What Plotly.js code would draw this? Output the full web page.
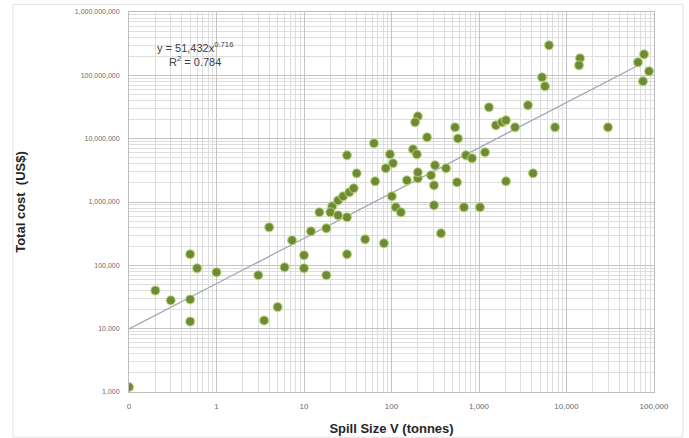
<!DOCTYPE html>
<html>
<head>
<meta charset="utf-8">
<script src="https://cdn.plot.ly/plotly-3.0.1.min.js"></script>
<style>html,body{margin:0;padding:0;background:#fff}#chart{width:689px;height:438px}</style>
</head>
<body>
<div id="chart"></div>
<script>
// Spill size (tonnes)
var spillSize = [
  0.1, 0.2, 0.3, 0.5, 0.6, 0.5, 0.5, 1.0, 3, 3.5,
  5, 4, 7.3, 6, 10, 10, 18, 12, 18, 15,
  31, 21, 24.5, 28, 33, 37, 20, 24.5, 31, 50,
  31, 40, 65, 63, 82, 96, 104, 86, 101, 112,
  128, 150, 200, 200, 176, 195, 200, 186, 255, 314,
  420, 283, 306, 306, 368, 532, 575, 561, 674, 1026,
  710, 832, 1170, 1300, 1560, 1830, 2035, 2580, 3630, 2035,
  4140, 7390, 29800, 5250, 5680, 6310, 14260, 13900, 76900, 65600,
  87700, 74800
];
// Total cost (US$)
var totalCost = [
  1200, 40000, 28000, 150000, 90000, 29000, 13000, 78000, 70000, 13500,
  22000, 400000, 250000, 93000, 144000, 90000, 70000, 345000, 385000, 690000,
  150000, 855000, 1060000, 1230000, 1420000, 1650000, 690000, 617000, 574000, 258000,
  5470000, 2840000, 2120000, 8450000, 223000, 5670000, 4090000, 3400000, 1230000, 825000,
  690000, 2200000, 2370000, 2940000, 6790000, 5670000, 22500000, 18200000, 10500000, 3800000,
  3400000, 2640000, 1840000, 887000, 320000, 15100000, 10100000, 2050000, 825000, 825000,
  5470000, 4900000, 6100000, 31300000, 16300000, 18200000, 19500000, 15100000, 33700000, 2120000,
  2840000, 15100000, 15100000, 93100000, 67100000, 298000000, 186000000, 144000000, 215000000, 161000000,
  116000000, 80500000
];
// Power trendline end points
var trendX = [0.1, 70000];
var trendY = [9900, 150000000];

var xTickVals = [0.1, 1, 10, 100, 1000, 10000, 100000];
var xTickText = ['0', '1', '10', '100', '1,000', '10,000', '100,000'];
var yTickVals = [1e3, 1e4, 1e5, 1e6, 1e7, 1e8, 1e9];
var yTickText = ['1,000', '10,000', '100,000', '1,000,000', '10,000,000', '100,000,000', '1,000,000,000'];

function minorVals(lo, hi) {
  var out = [];
  for (var e = lo; e < hi; e++) {
    for (var d = 2; d <= 9; d++) out.push(d * Math.pow(10, e));
  }
  return out;
}

var traces = [
  {
    x: trendX, y: trendY, type: 'scatter', mode: 'lines',
    line: {color: '#9ea3b8', width: 1.2}, hoverinfo: 'skip', showlegend: false
  },
  {
    x: spillSize, y: totalCost, type: 'scatter', mode: 'markers',
    marker: {color: '#6e8a37', size: 9, line: {color: 'rgba(190,220,120,0.6)', width: 1.5}},
    showlegend: false
  }
];

var layout = {
  width: 689, height: 438,
  margin: {l: 129, r: 35, t: 12, b: 46},
  paper_bgcolor: '#ffffff', plot_bgcolor: '#ffffff',
  font: {family: 'Liberation Sans, Arial, sans-serif', color: '#595959'},
  xaxis: {
    type: 'log', range: [-1, 5],
    tickmode: 'array', tickvals: xTickVals, ticktext: xTickText,
    tickfont: {size: 8, color: '#6a6a6a'},
    ticks: '', ticklen: 0, ticklabelstandoff: 6,
    showgrid: true, gridcolor: '#c4c4c4', gridwidth: 1,
    minor: {tickmode: 'array', tickvals: minorVals(-1, 5), showgrid: true, gridcolor: '#dedede', gridwidth: 1, ticks: ''},
    showline: true, linecolor: '#bdbdbd', linewidth: 1, mirror: true,
    zeroline: false,
    title: {text: 'Spill Size V (tonnes)', font: {size: 13, color: '#262626', family: 'Liberation Sans, Arial, sans-serif', weight: 'bold'}, standoff: 14}
  },
  yaxis: {
    type: 'log', range: [3, 9],
    tickmode: 'array', tickvals: yTickVals, ticktext: yTickText,
    tickfont: {size: 7, color: '#6a6a6a'},
    ticks: '', ticklen: 0, ticklabelstandoff: 7,
    showgrid: true, gridcolor: '#c4c4c4', gridwidth: 1,
    minor: {tickmode: 'array', tickvals: minorVals(3, 9), showgrid: true, gridcolor: '#dedede', gridwidth: 1, ticks: ''},
    showline: true, linecolor: '#bdbdbd', linewidth: 1, mirror: true,
    zeroline: false,
    title: {text: 'Total cost  (US$)', font: {size: 13, color: '#262626', family: 'Liberation Sans Narrow, Arial Narrow, sans-serif', weight: 'bold'}, standoff: 46}
  },
  annotations: [
    {xref: 'paper', yref: 'paper', x: 0.126, y: 0.89, xanchor: 'center', yanchor: 'middle', showarrow: false, align: 'center',
     text: 'y = 51,432x<sup>0.716</sup><br>R<sup>2</sup> = 0.784', font: {size: 11, color: '#404040'}}
  ],
  shapes: [
    {type: 'rect', xref: 'paper', yref: 'paper', x0: -0.221, x1: 1.055, y0: -0.119, y1: 1.02,
     line: {color: '#e2e2e2', width: 1}, fillcolor: 'rgba(0,0,0,0)', layer: 'below'}
  ]
};

Plotly.newPlot('chart', traces, layout, {displayModeBar: false, staticPlot: true});
</script>
</body>
</html>
